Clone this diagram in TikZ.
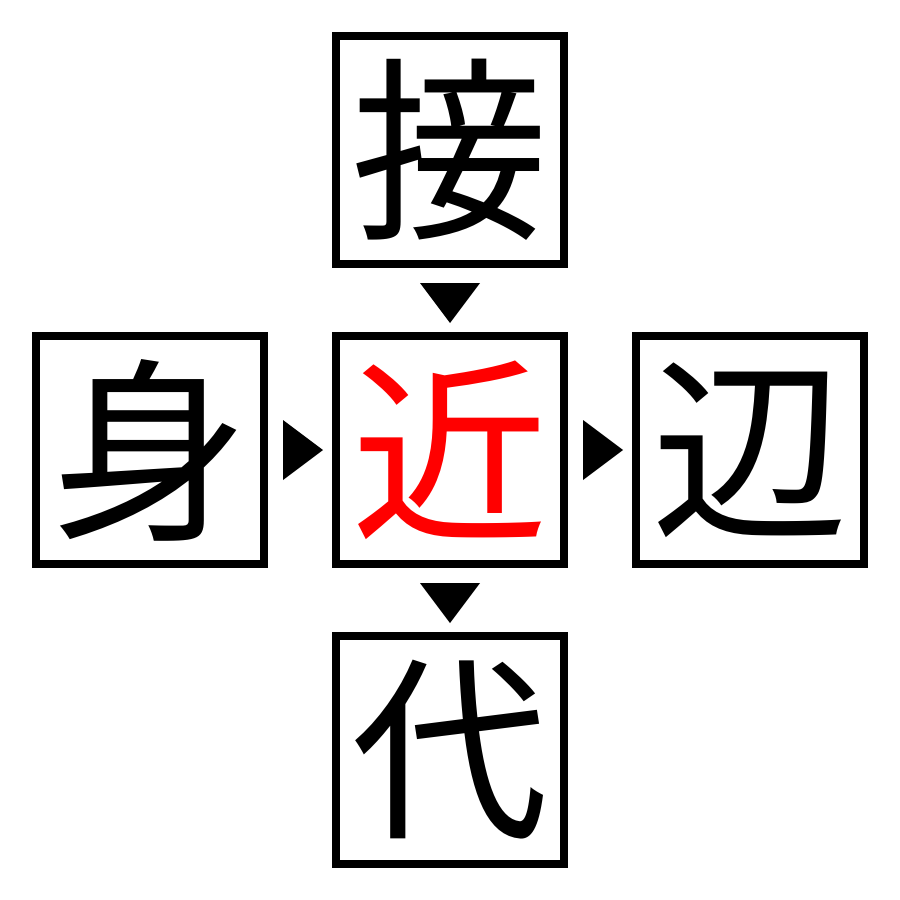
\documentclass[tikz,border=0pt]{standalone}
\usepackage{fontspec}
\newfontfamily\cjk{Noto Sans CJK JP}

\begin{document}
\begin{tikzpicture}[x=0.01cm, y=-0.01cm]
        \useasboundingbox (0,0) rectangle (900,900);
        \begin{scope}[every node/.style={draw, line width=0.08cm, minimum size=2.27cm, inner sep=0, font=\cjk\fontsize{56}{60}\selectfont}]
            \node (top) at (450,150) {接};
            \node [text=red] (mid) at (450,450) {近};
            \node (left) at (150,450) {身};
            \node (right) at (750,450) {辺};
            \node (bot) at (450,750) {代};
        \end{scope}
        \begin{scope}
            \coordinate (tdown1) at (450,303);
            \coordinate (tdown2) at (450,603);
            \coordinate (tright1) at (303,450);
            \coordinate (tright2) at (603,450);
            \fill (tdown1) ++(-30,-20) -- ++(60,0) -- ++(-30,40) -- cycle;
            \fill (tdown2) ++(-30,-20) -- ++(60,0) -- ++(-30,40) -- cycle;
            \fill (tright1) ++(-20,-30) -- ++(0,60) -- ++(40,-30) -- cycle;
            \fill (tright2) ++(-20,-30) -- ++(0,60) -- ++(40,-30) -- cycle;
        \end{scope}
    \end{tikzpicture}
\end{document}
